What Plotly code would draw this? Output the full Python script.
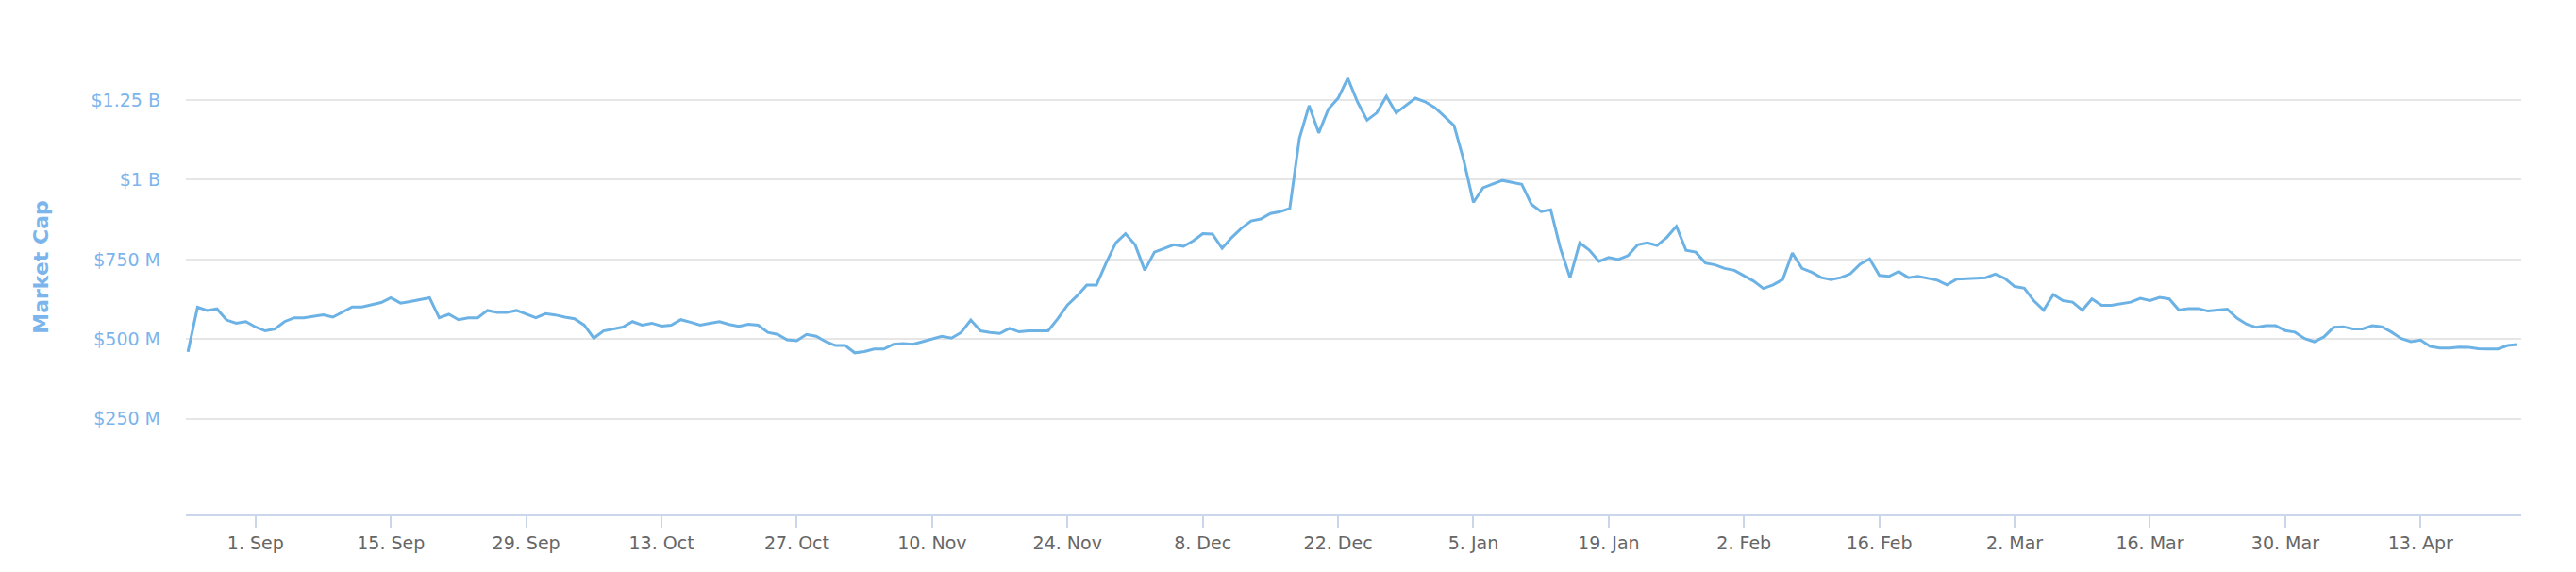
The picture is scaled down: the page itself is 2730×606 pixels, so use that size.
import pandas as pd
import plotly.graph_objects as go

start_date = "2017-08-25"
market_cap_m = [
    460, 600, 590, 595, 560, 550, 555,  # Aug 25-31
    538, 526, 532, 555, 567, 567, 572, 576, 569, 584, 601, 601, 607, 615, 630, 613, 618, 624, 630, 567,
    578, 561, 567, 567, 590, 584, 584, 590, 578, 567,  # Sep
    580, 576, 569, 564, 544, 503, 526, 532, 538, 555, 544, 550, 541, 544, 561, 553, 544, 550, 555, 546,
    540, 547, 544, 521, 515, 498, 495, 515, 509, 492, 480,  # Oct
    480, 457, 461, 469, 469, 484, 486, 484, 492, 500, 509, 503, 521, 560, 526, 521, 518, 534, 523, 526,
    526, 526, 564, 607, 636, 670, 670, 739, 802, 831,  # Nov
    796, 716, 773, 785, 796, 791, 808, 831, 830, 785, 819, 848, 871, 877, 894, 900, 910, 1130, 1233, 1147,
    1222, 1256, 1319, 1245, 1187, 1210, 1262, 1210, 1233, 1256, 1245,  # Dec
    1227, 1199, 1170, 1061, 929, 975, 986, 998, 992, 986, 923, 900, 906, 785, 693, 802, 779, 744, 756, 750,
    762, 796, 802, 794, 819, 854, 779, 773, 739, 733, 722,  # Jan
    716, 699, 682, 659, 670, 687, 770, 722, 710, 693, 687, 693, 705, 735, 752, 700, 697, 712, 693, 697,
    692, 685, 670, 688, 690, 692, 693, 704,  # Feb
    690, 665, 660, 620, 591, 640, 621, 616, 591, 626, 606, 606, 611, 616, 628, 621, 631, 626, 591, 596,
    596, 588, 591, 594, 566, 547, 537, 542, 542, 527, 522,  # Mar
    502, 492, 507, 537, 539, 532, 532, 542, 539, 522, 502, 492, 497, 477, 472, 472, 475, 474, 470, 469,
    469, 480, 483,  # Apr 1-23
]
x_range = ["2017-08-24 19:00", "2018-04-23 10:00"]
tick_dates = ["2017-09-01", "2017-09-15", "2017-09-29", "2017-10-13", "2017-10-27", "2017-11-10",
              "2017-11-24", "2017-12-08", "2017-12-22", "2018-01-05", "2018-01-19", "2018-02-02",
              "2018-02-16", "2018-03-02", "2018-03-16", "2018-03-30", "2018-04-13"]
tick_labels = ["1. Sep", "15. Sep", "29. Sep", "13. Oct", "27. Oct", "10. Nov", "24. Nov", "8. Dec",
               "22. Dec", "5. Jan", "19. Jan", "2. Feb", "16. Feb", "2. Mar", "16. Mar", "30. Mar", "13. Apr"]
y_ticks = [250e6, 500e6, 750e6, 1000e6, 1250e6, 1500e6]
y_labels = ["$250 M", "$500 M", "$750 M", "$1 B", "$1.25 B", ""]

dates = pd.date_range(start_date, periods=len(market_cap_m), freq="D")
vals = [v * 1e6 for v in market_cap_m]

fig = go.Figure(go.Scatter(x=dates, y=vals, mode="lines",
                           line=dict(color="#6cb2e4", width=3), hoverinfo="skip"))
fig.update_layout(
    width=2730, height=606, paper_bgcolor="white", plot_bgcolor="white",
    margin=dict(l=189, r=66, t=13, b=69), showlegend=False,
    font=dict(family="DejaVu Sans", size=19, color="#666666"),
)
fig.update_xaxes(range=x_range, tickvals=tick_dates, ticktext=tick_labels, showgrid=False,
                 showline=True, linecolor="#ccd6eb", linewidth=2, ticks="outside", ticklen=12,
                 tickcolor="#ccd6eb", tickwidth=2, tickfont=dict(size=19, color="#666666"), zeroline=False)
fig.update_yaxes(range=[-50e6, 1502e6], tickvals=y_ticks, ticktext=y_labels, showgrid=True,
                 gridcolor="#e6e6e6", gridwidth=2, zeroline=False, showline=False,
                 tickfont=dict(size=19, color="#7cb5ec"), ticklabelstandoff=26,
                 title=dict(text="<b>Market Cap</b>", font=dict(size=22, color="#7cb5ec"), standoff=38))
fig.write_html("out.html")
